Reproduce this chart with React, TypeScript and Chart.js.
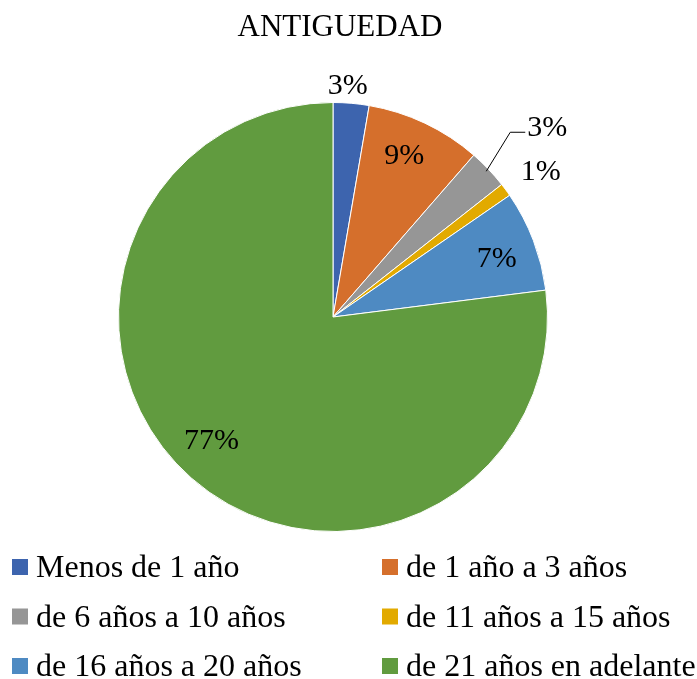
import React, { useEffect, useRef } from "react";
import { Chart, registerables } from "chart.js";

Chart.register(...registerables);

const TITLE = "ANTIGUEDAD";
const categories = [
  "Menos de 1 año",
  "de 1 año a 3 años",
  "de 6 años a 10 años",
  "de 11 años a 15 años",
  "de 16 años a 20 años",
  "de 21 años en adelante",
];
const values = [2.7, 8.7, 3.0, 1.0, 7.6, 77.0];
const pctLabels = ["3%", "9%", "3%", "1%", "7%", "77%"];
const colors = ["#3D64AE", "#D56F2C", "#969696", "#E2AA00", "#4E8AC2", "#619B3F"];

// label placement: mode, radius factor and small angular nudge (degrees)
const labelMode = ["out", "in", "leader", "out", "in", "in"];
const labelRadius = [1.08, 0.82, 1.0, 1.18, 0.81, 0.81];
const labelAngleShift = [-1.2, -1.5, 0, 1.5, 1.4, 3];

const FONT = "'Liberation Serif', 'Times New Roman', serif";

const overlayPlugin = {
  id: "overlay",
  afterDraw(chart: any) {
    const ctx = chart.ctx as CanvasRenderingContext2D;
    ctx.save();
    ctx.fillStyle = "#000";
    // title
    ctx.font = `31px ${FONT}`;
    ctx.textAlign = "center";
    ctx.textBaseline = "alphabetic";
    ctx.fillText(TITLE, 340, 36);

    // percentage labels
    const meta = chart.getDatasetMeta(0);
    ctx.font = `30px ${FONT}`;
    meta.data.forEach((arc: any, i: number) => {
      const { x, y, startAngle, endAngle, outerRadius } = arc.getProps(
        ["x", "y", "startAngle", "endAngle", "outerRadius"],
        true
      );
      const mid = (startAngle + endAngle) / 2 + (labelAngleShift[i] * Math.PI) / 180;
      const mode = labelMode[i];
      if (mode === "leader") {
        const sx = x + Math.cos(mid) * (outerRadius - 3);
        const sy = y + Math.sin(mid) * (outerRadius - 3);
        const ex = sx + 24;
        const ey = sy - 39;
        ctx.strokeStyle = "#000";
        ctx.lineWidth = 1;
        ctx.beginPath();
        ctx.moveTo(sx, sy);
        ctx.lineTo(ex, ey);
        ctx.lineTo(ex + 15, ey);
        ctx.stroke();
        ctx.textAlign = "left";
        ctx.textBaseline = "middle";
        ctx.fillText(pctLabels[i], ex + 17, ey - 4);
      } else {
        const r = outerRadius * labelRadius[i];
        ctx.textAlign = "center";
        ctx.textBaseline = "middle";
        ctx.fillText(pctLabels[i], x + Math.cos(mid) * r, y + Math.sin(mid) * r);
      }
    });

    // legend
    ctx.font = `32px ${FONT}`;
    ctx.textAlign = "left";
    ctx.textBaseline = "alphabetic";
    const colX = [12, 382];
    const rowY = [559, 608.5, 658];
    categories.forEach((c, i) => {
      const cx = colX[i % 2];
      const ry = rowY[Math.floor(i / 2)];
      ctx.fillStyle = colors[i];
      ctx.fillRect(cx, ry, 16, 16);
      ctx.fillStyle = "#000";
      ctx.fillText(c, cx + 24, ry + 18);
    });
    ctx.restore();
  },
};

export default function App() {
  const ref = useRef<HTMLCanvasElement>(null);
  useEffect(() => {
    if (!ref.current) return;
    const chart = new Chart(ref.current, {
      type: "pie",
      data: {
        labels: categories,
        datasets: [
          {
            data: values,
            backgroundColor: colors,
            borderColor: "#ffffff",
            borderWidth: 1,
          },
        ],
      },
      options: {
        responsive: false,
        animation: false,
        layout: { padding: { left: 118, right: 149, top: 102, bottom: 147 } },
        plugins: {
          legend: { display: false },
          title: { display: false },
          tooltip: { enabled: false },
        },
      },
      plugins: [overlayPlugin],
    });
    return () => chart.destroy();
  }, []);
  return (
    <div style={{ position: "absolute", left: 0, top: 0, width: 697, height: 679, background: "#fff" }}>
      <canvas ref={ref} width={697} height={679} style={{ width: 697, height: 679 }} />
    </div>
  );
}
